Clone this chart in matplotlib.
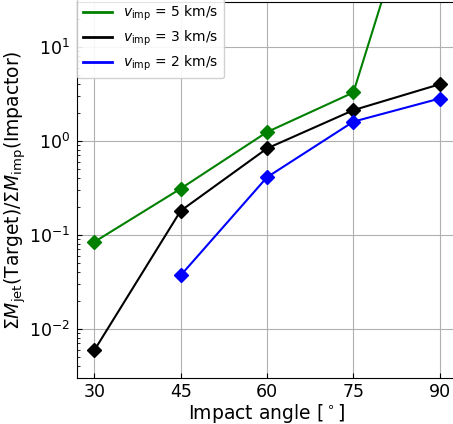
import numpy as np
import matplotlib.pyplot as plt
from matplotlib.lines import Line2D

# impact angles [deg]
angles = [30, 45, 60, 75, 90]

# sum M_jet(target) / sum M_imp(impactor)
ratio_5kms = [0.084, 0.31, 1.24, 3.27, 2900.0]
ratio_3kms = [0.0059, 0.18, 0.83, 2.12, 4.0]
angles_2kms = [45, 60, 75, 90]
ratio_2kms = [0.037, 0.41, 1.6, 2.82]

xticks = [30, 45, 60, 75, 90]
labels = [r'$v_{\rm imp}$ = 5 km/s', r'$v_{\rm imp}$ = 3 km/s',
          r'$v_{\rm imp}$ = 2 km/s']
colors = ['green', 'black', 'blue']

fig = plt.figure(figsize=(4.53, 4.24), dpi=100)
ax = fig.add_axes([77/453, 46/424, 380/453, 376/424])

ax.plot(angles, ratio_5kms, '-D', color=colors[0], lw=1.5, ms=7)
ax.plot(angles, ratio_3kms, '-D', color=colors[1], lw=1.5, ms=7)
ax.plot(angles_2kms, ratio_2kms, '-D', color=colors[2], lw=1.5, ms=7)

ax.set_yscale('log')
ax.set_xlim(27, 93)
ax.set_ylim(3e-3, 30)
ax.set_xticks(xticks)
ax.grid(True, color='#b0b0b0', lw=0.8)
ax.tick_params(which='both', direction='in', labelsize=12.5)
ax.tick_params(axis='y', pad=5)
ax.set_xlabel(r'Impact angle [$^\circ$]', fontsize=13.5, labelpad=1)
ax.set_ylabel(r'$\Sigma M_{\rm jet}$(Target)/$\Sigma M_{\rm imp}$(Impactor)',
              fontsize=13.5)
ax.yaxis.set_label_coords(-0.128, 0.5)

handles = [Line2D([], [], color=c, lw=2) for c in colors]
leg = ax.legend(handles, labels, loc='upper left', fontsize=10,
                borderaxespad=0.0, handlelength=2.1, framealpha=0.9,
                labelspacing=0.4, bbox_to_anchor=(0, 1.01))

plt.savefig('out.png', dpi=100)
